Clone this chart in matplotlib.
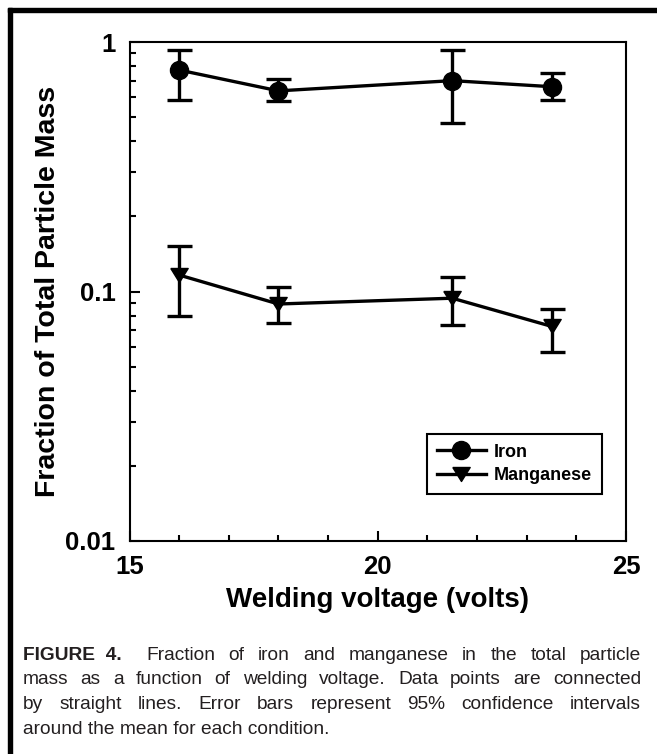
import numpy as np
import matplotlib
matplotlib.use("Agg")
import matplotlib.pyplot as plt
from matplotlib.patches import Rectangle
from matplotlib.lines import Line2D

# --- data ---
voltage = [16.0, 18.0, 21.5, 23.5]

iron    = [0.772, 0.637, 0.700, 0.662]
iron_lo = [0.586, 0.580, 0.472, 0.586]
iron_hi = [0.925, 0.711, 0.929, 0.753]

mn    = [0.1164, 0.0891, 0.0940, 0.0725]
mn_lo = [0.0800, 0.0750, 0.0734, 0.0571]
mn_hi = [0.1520, 0.1040, 0.1148, 0.0851]

series_names = ["Iron", "Manganese"]

caption = [
    "mass as a function of welding voltage. Data points are connected",
    "by straight lines. Error bars represent 95% confidence intervals",
    "around the mean for each condition.",
]

W, H = 657, 754
plt.rcParams["font.family"] = ["Liberation Sans", "DejaVu Sans"]
fig = plt.figure(figsize=(W / 100, H / 100), dpi=100)
fig.patch.set_facecolor("white")

ax = fig.add_axes([129.5 / W, 1 - 541 / H, (626 - 129.5) / W, (541 - 42) / H])

# flattened down-triangle marker
tri = [(-0.62, 0.5), (0.62, 0.5), (0, -0.5), (-0.62, 0.5)]


def err(vals, lo, hi):
    v = np.array(vals)
    return [v - np.array(lo), np.array(hi) - v]


ax.errorbar(voltage, iron, yerr=err(iron, iron_lo, iron_hi), color="black",
            lw=2.4, marker="o", ms=13, elinewidth=2.4, capsize=9,
            capthick=2.4)
ax.errorbar(voltage, mn, yerr=err(mn, mn_lo, mn_hi), color="black",
            lw=2.4, marker=tri, ms=12.5, elinewidth=2.4, capsize=9,
            capthick=2.4)

ax.set_yscale("log")
ax.set_ylim(0.01, 1)
ax.set_xlim(15, 25)
ax.set_xticks([15, 20, 25])
ax.set_xticks(np.arange(15, 26, 1), minor=True)
ax.set_yticks([0.01, 0.1, 1])
ax.set_yticklabels(["0.01", "0.1", "1"])
ax.set_xticklabels(["15", "20", "25"])

for s in ax.spines.values():
    s.set_linewidth(1.5)
ax.tick_params(which="both", direction="in", top=False, right=False,
               width=1.5, labelsize=18.5)
ax.tick_params(which="major", length=7, pad=10)
ax.tick_params(which="minor", length=4)
for lab in ax.get_xticklabels() + ax.get_yticklabels():
    lab.set_fontweight("bold")

fig.text(378 / W, 1 - 600 / H, "Welding voltage (volts)", ha="center",
         va="center", fontsize=20, fontweight="bold")
fig.text(48 / W, 1 - 291.5 / H, "Fraction of Total Particle Mass",
         ha="center", va="center", rotation=90, fontsize=20.5,
         fontweight="bold")

handles = [Line2D([], [], color="black", lw=2.4, marker="o", ms=13),
           Line2D([], [], color="black", lw=2.4, marker=tri, ms=12.5)]
leg = ax.legend(handles, series_names, loc="lower right",
                bbox_to_anchor=((602 - 129.5) / 496.5, (541 - 494) / 499),
                frameon=True, fancybox=False, edgecolor="black",
                framealpha=1, prop={"weight": "bold", "size": 13},
                handlelength=2.7, handletextpad=0.45, borderpad=0.55,
                labelspacing=0.35, borderaxespad=0)
leg.get_frame().set_linewidth(1.5)

# --- outer frame (top and left only) ---
fig.add_artist(Rectangle((8 / W, 0), 4 / W, 1 - 8 / H,
                         transform=fig.transFigure, color="black"))
fig.add_artist(Rectangle((8 / W, 1 - 12 / H), 1 - 8 / W, 4 / H,
                         transform=fig.transFigure, color="black"))

# --- caption, justified ---
fig.canvas.draw()
r = fig.canvas.get_renderer()
x0, x1 = 23, 641
fs = 13.8
col = "#231f20"


def width(t, **kw):
    tt = fig.text(0, 0, t, fontsize=fs, **kw)
    w = tt.get_window_extent(r).width
    tt.remove()
    return w


def justify(words, y, first=None):
    xs = x0
    parts = []
    if first is not None:
        parts.append((first, {"fontweight": "bold"}))
    for wd in words:
        parts.append((wd, {}))
    widths = [width(t, **kw) for t, kw in parts]
    gap = (x1 - x0 - sum(widths)) / (len(parts) - 1)
    for (t, kw), w in zip(parts, widths):
        fig.text(xs / W, 1 - y / H, t, fontsize=fs, color=col,
                 va="baseline", **kw)
        xs += w + gap


justify("Fraction of iron and manganese in the total particle".split(),
        660, first="FIGURE  4.  ")
justify(caption[0].split(), 684.5)
justify(caption[1].split(), 709)
fig.text(x0 / W, 1 - 734 / H, caption[2], fontsize=fs, color=col,
         va="baseline")

fig.savefig("out.png", dpi=100)
